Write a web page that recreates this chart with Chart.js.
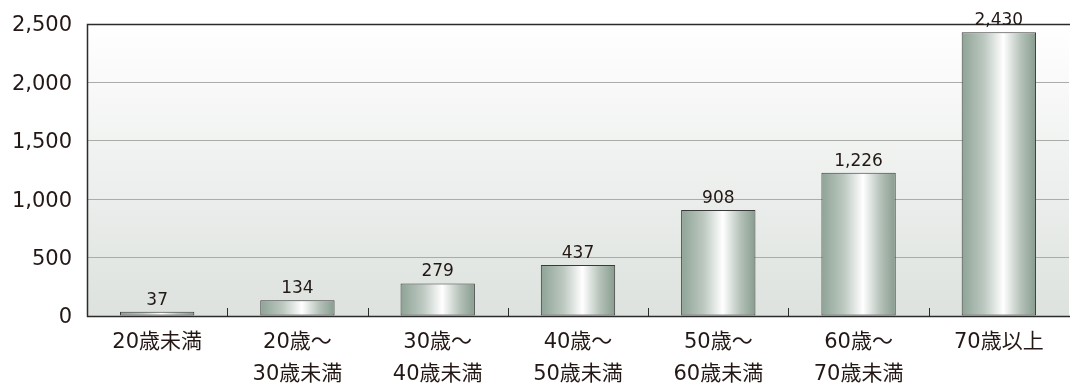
<!DOCTYPE html>
<html>
<head>
<meta charset="utf-8">
<script src="https://cdn.jsdelivr.net/npm/chart.js@4/dist/chart.umd.min.js"></script>
<style>
  html, body { margin: 0; padding: 0; background: #fff; }
  #wrap { width: 1070px; height: 387px; }
</style>
</head>
<body>
<div id="wrap"><canvas id="chart"></canvas></div>
<script>
// categories (multi-line labels)
const categories = [
  ['20歳未満'],
  ['20歳～', '30歳未満'],
  ['30歳～', '40歳未満'],
  ['40歳～', '50歳未満'],
  ['50歳～', '60歳未満'],
  ['60歳～', '70歳未満'],
  ['70歳以上']
];
// values per age group
const counts = [37, 134, 279, 437, 908, 1226, 2430];
// y axis ticks
const yTicks = [0, 500, 1000, 1500, 2000, 2500];

const FONT = '"DejaVu Sans", "Noto Sans CJK JP", sans-serif';
const TEXT = '#231815';

// background gradient + frame + inner x ticks + value labels
const framePlugin = {
  id: 'frame',
  beforeDraw(chart) {
    const { ctx, chartArea: a } = chart;
    const g = ctx.createLinearGradient(0, a.top, 0, a.bottom);
    g.addColorStop(0, '#ffffff');
    g.addColorStop(1, '#dde2de');
    ctx.save();
    ctx.fillStyle = g;
    ctx.fillRect(a.left, a.top, a.right - a.left, a.bottom - a.top);
    ctx.restore();
  },
  afterDatasetsDraw(chart) {
    const { ctx, chartArea: a, scales } = chart;
    ctx.save();
    ctx.strokeStyle = '#2b2b2b';
    ctx.lineWidth = 1.5;
    ctx.beginPath();
    ctx.moveTo(a.right + 1, a.top + 0.5);
    ctx.lineTo(a.left + 0.5, a.top + 0.5);
    ctx.lineTo(a.left + 0.5, a.bottom + 0.5);
    ctx.lineTo(a.right + 1, a.bottom + 0.5);
    ctx.stroke();
    // small tick marks between categories
    ctx.lineWidth = 1;
    const x = scales.x;
    for (let i = 1; i < categories.length; i++) {
      const px = Math.round((x.getPixelForValue(i - 1) + x.getPixelForValue(i)) / 2) + 0.5;
      ctx.beginPath();
      ctx.moveTo(px, a.bottom);
      ctx.lineTo(px, a.bottom - 8);
      ctx.stroke();
    }
    // value labels above the bars
    ctx.fillStyle = TEXT;
    ctx.font = '17px ' + FONT;
    ctx.textAlign = 'center';
    ctx.textBaseline = 'alphabetic';
    chart.getDatasetMeta(0).data.forEach((bar, i) => {
      ctx.fillText(counts[i].toLocaleString('en-US'), bar.x, bar.y - 7);
    });
    ctx.restore();
  }
};

// horizontal metallic gradient for each bar
function barFill(context) {
  const chart = context.chart;
  const x = chart.scales.x;
  if (!x || !chart.chartArea) return '#9fb2a6';
  const meta = chart.getDatasetMeta(0);
  const bar = meta.data[context.dataIndex];
  const cx = x.getPixelForValue(context.dataIndex);
  const w = bar && bar.width ? bar.width : 74;
  const g = chart.ctx.createLinearGradient(cx - w / 2, 0, cx + w / 2, 0);
  g.addColorStop(0, '#8ea396');
  g.addColorStop(0.3, '#bcc8c0');
  g.addColorStop(0.56, '#ffffff');
  g.addColorStop(0.8, '#b4c1b8');
  g.addColorStop(1, '#889c8f');
  return g;
}

new Chart(document.getElementById('chart'), {
  type: 'bar',
  data: {
    labels: categories,
    datasets: [{
      data: counts,
      backgroundColor: barFill,
      borderColor: '#3a3a3a',
      borderWidth: 1,
      borderSkipped: false,
      categoryPercentage: 1,
      barPercentage: 0.53
    }]
  },
  options: {
    responsive: true,
    maintainAspectRatio: false,
    animation: false,
    layout: { padding: { top: 24, right: 1, left: 0, bottom: 0 } },
    plugins: {
      legend: { display: false },
      tooltip: { enabled: false }
    },
    scales: {
      x: {
        grid: { display: false },
        border: { display: false },
        ticks: {
          color: TEXT,
          font: { family: FONT, size: 21, lineHeight: 1.55 },
          padding: 2,
          maxRotation: 0,
          autoSkip: false
        },
        afterFit(scale) { scale.height = 71; }
      },
      y: {
        min: 0,
        max: 2500,
        afterBuildTicks(scale) { scale.ticks = yTicks.map(v => ({ value: v })); },
        grid: { color: '#a9aca9', lineWidth: 1, drawTicks: false },
        border: { display: false },
        ticks: {
          color: TEXT,
          font: { family: FONT, size: 21 },
          padding: 15,
          labelOffset: 2,
          callback: v => v.toLocaleString('en-US')
        },
        afterFit(scale) {
          scale.width = 87;
          // plot frame is placed by layout padding only
          scale.paddingTop = 0;
          scale.paddingBottom = 0;
        }
      }
    }
  },
  plugins: [framePlugin]
});
</script>
</body>
</html>
